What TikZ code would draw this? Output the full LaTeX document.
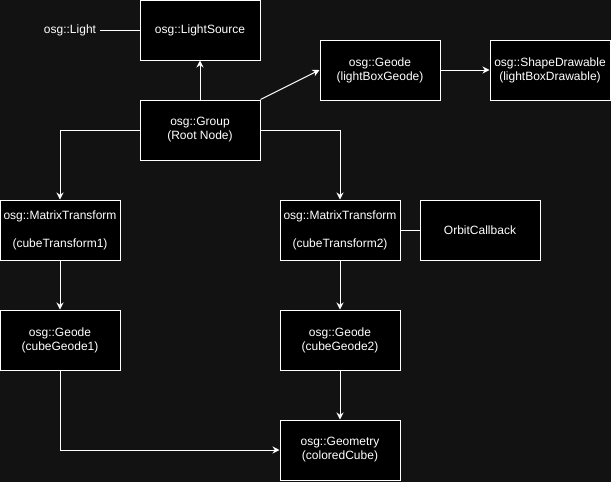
\documentclass[tikz,border=0pt]{standalone}
\usepackage{fontspec}
\setmainfont{Liberation Sans}
\usetikzlibrary{arrows.meta}
\definecolor{bgdark}{HTML}{121212}

\begin{document}
\begin{tikzpicture}[
    % Global styles
    x=1pt, y=-1pt,
    box/.style={rectangle, draw=white, fill=black, text=white, line width=1pt,
        minimum width=120pt, minimum height=60pt, inner sep=0pt, align=center,
        font=\fontsize{12}{14}\selectfont},
    plain/.style={text=white, inner sep=4pt, font=\fontsize{12}{14}\selectfont},
    link/.style={draw=white, line width=1pt},
    arrow/.style={link, -{Stealth[length=7pt, width=7pt]}}
    ]
    % Background
    \fill[bgdark] (0,0) rectangle (611,482);
    \useasboundingbox (0,0) rectangle (611,482);

    % ===========================
    % TOP ROW
    % ===========================

    % Nodes
    \node[plain] (light) at (70, 30) {osg::Light};
    \node[box] (source) at (200, 30) {osg::LightSource};
    \node[box] (group) at (200, 130) {osg::Group\\(Root Node)};
    \node[box] (lbgeode) at (380, 70) {osg::Geode\\(lightBoxGeode)};
    \node[box] (lbdraw) at (550, 70) {osg::ShapeDrawable\\(lightBoxDrawable)};

    % Edges
    \draw[link] (light.east) -- (source.west);
    \draw[arrow] (group) -- (source);
    \draw[arrow] (group.north east) -- (lbgeode.west);
    \draw[arrow] (lbgeode) -- (lbdraw);

    % ===========================
    % CUBE BRANCHES
    % ===========================

    % Nodes
    \node[box] (mt1) at (60, 230) {osg::MatrixTransform\\[14pt](cubeTransform1)};
    \node[box] (mt2) at (340, 230) {osg::MatrixTransform\\[14pt](cubeTransform2)};
    \node[box] (orbit) at (480, 230) {OrbitCallback};
    \node[box] (geode1) at (60, 340) {osg::Geode\\(cubeGeode1)};
    \node[box] (geode2) at (340, 340) {osg::Geode\\(cubeGeode2)};
    \node[box] (geom) at (340, 450) {osg::Geometry\\(coloredCube)};

    % Edges
    \draw[arrow] (group.west) -| (mt1.north);
    \draw[arrow] (group.east) -| (mt2.north);
    \draw[link] (mt2) -- (orbit);
    \draw[arrow] (mt1) -- (geode1);
    \draw[arrow] (mt2) -- (geode2);

    % Shared geometry
    \draw[arrow] (geode2) -- (geom);
    \draw[arrow] (geode1.south) |- (geom.west);

\end{tikzpicture}
\end{document}
